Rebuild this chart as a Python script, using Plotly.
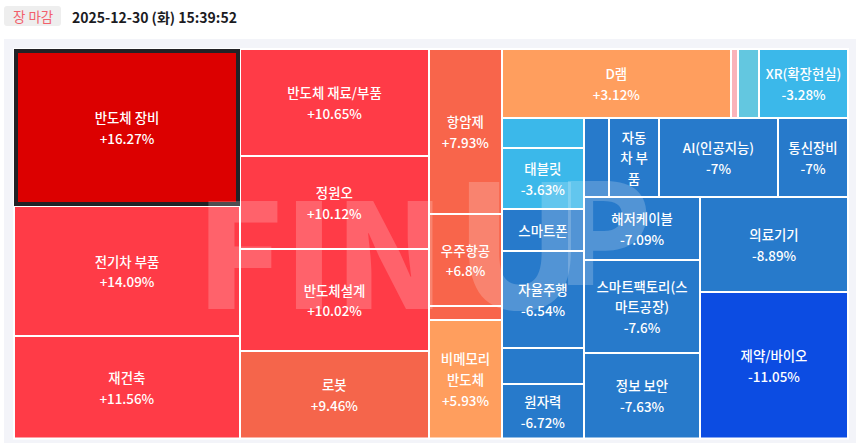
import plotly.graph_objects as go

W, H = 856, 443
FONT = "Noto Sans CJK KR"

# 트리맵 칸 (기타 칸은 글자 표시 안 함)
names = ["반도체 장비", "전기차 부품", "재건축",
         "반도체 재료/부품", "정원오", "반도체설계", "로봇",
         "항암제", "우주항공", "기타1", "비메모리<br>반도체",
         "D램", "기타2", "기타3", "XR(확장현실)",
         "기타4", "태블릿", "스마트폰", "자율주행", "기타5", "원자력",
         "기타6", "자동<br>차 부<br>품", "AI(인공지능)", "통신장비",
         "해저케이블", "스마트팩토리(스<br>마트공장)", "정보 보안",
         "의료기기", "제약/바이오"]
changes = ["+16.27%", "+14.09%", "+11.56%",
           "+10.65%", "+10.12%", "+10.02%", "+9.46%",
           "+7.93%", "+6.8%", "", "+5.93%",
           "+3.12%", "", "", "-3.28%",
           "", "-3.63%", "", "-6.54%", "", "-6.72%",
           "", "", "-7%", "-7%",
           "-7.09%", "-7.6%", "-7.63%",
           "-8.89%", "-11.05%"]
sizes = [35482, 29380, 23165,
         20223, 17577, 19278, 16538,
         12045, 6716, 1022, 8651,
         15801, 483, 1449, 6141,
         2460, 5002, 3444, 7954, 2952, 4469,
         1975, 3950, 9401, 5530,
         7308, 10788, 9918,
         14060, 21682]
colors = ["#dc0000", "#ff3b47", "#ff3b47",
          "#ff3b47", "#ff3b47", "#ff3b47", "#f5654b",
          "#f8654b", "#f8654b", "#f8654b", "#ff9e5e",
          "#ff9e5e", "#f9b3ba", "#63c7e0", "#3bb8ea",
          "#3bb8ea", "#3bb8ea", "#277acb", "#277acb", "#277acb", "#277acb",
          "#277acb", "#277acb", "#277acb", "#277acb",
          "#277acb", "#277acb", "#277acb",
          "#277acb", "#0c4ce2"]
parents = ["c1", "c1", "c1",
           "c2", "c2", "c2", "c2",
           "c3", "c3", "c3", "c3",
           "top", "top", "top", "top",
           "colA", "colA", "colA", "colA", "colA", "colA",
           "row", "row", "row", "row",
           "colB", "colB", "colB",
           "colC", "colC"]

# 바깥 묶음 (slice-dice로 칸 배치를 고정)
group_ids = ["root", "c1", "c2", "c3", "right", "top", "low", "colA", "rest", "row", "rest2", "colB", "colC"]
group_parents = ["", "root", "root", "root", "root", "right", "right", "low", "low", "rest", "rest", "rest2", "rest2"]

# 맨 위 표시 텍스트
status_text = "장 마감"
time_text = "2025-12-30 (화) 15:39:52"

texts = []
for n, c in zip(names, changes):
    if n.startswith("기타"):
        texts.append("")
    elif c:
        texts.append(f"<span style='font-size:13.4px'>{n}<br>{c}</span>")
    else:
        texts.append(f"<span style='font-size:13.4px'>{n}</span>")

ids = group_ids + [f"leaf{i}" for i in range(len(names))]
labels = group_ids + names
pars = group_parents + parents
vals = [0] * len(group_ids) + sizes
cols = ["rgba(0,0,0,0)"] * len(group_ids) + colors
line_w = [0] * len(group_ids) + [2] * len(names)
txt = [""] * len(group_ids) + texts


def px(x):
    return x / W


def py(y):
    return 1 - y / H


LEFT, RIGHT, TOP, BOTTOM = 14, 848, 49, 438.5

fig = go.Figure(go.Treemap(
    ids=ids,
    labels=labels,
    parents=pars,
    values=vals,
    text=txt,
    texttemplate="%{text}",
    branchvalues="remainder",
    sort=False,
    hoverinfo="skip",
    tiling=dict(packing="slice-dice", pad=0),
    pathbar=dict(visible=False),
    root=dict(color="rgba(0,0,0,0)"),
    marker=dict(colors=cols, depthfade=False, pad=dict(t=0, l=0, r=0, b=0),
                line=dict(color="white", width=line_w)),
    textfont=dict(family=FONT, size=16, color="white", weight=500),
    textposition="middle center",
    domain=dict(x=[px(LEFT), px(RIGHT)], y=[py(BOTTOM), py(TOP)]),
))

# 첫 칸 강조 테두리: 칸 크기에서 계산
total = sum(sizes)
col1 = sum(s for s, p in zip(sizes, parents) if p == "c1")
first_r = LEFT + (RIGHT - LEFT) * col1 / total
first_b = TOP + (BOTTOM - TOP) * sizes[0] / col1

shapes = [
    dict(type="rect", layer="below", xref="paper", yref="paper",
         x0=px(4), x1=1, y0=0, y1=py(39), line_width=0, fillcolor="#f3f4f9"),
    dict(type="rect", xref="paper", yref="paper",
         x0=px(LEFT + 2), x1=px(first_r - 2), y0=py(first_b - 2), y1=py(TOP + 2),
         line=dict(color="#222226", width=4)),
    dict(type="path", xref="paper", yref="paper", line_width=0, fillcolor="#eeeeee",
         path=f"M {px(7)} {py(6)} L {px(58)} {py(6)} Q {px(61)} {py(6)} {px(61)} {py(9)} "
              f"L {px(61)} {py(23)} Q {px(61)} {py(26)} {px(58)} {py(26)} "
              f"L {px(7)} {py(26)} Q {px(4)} {py(26)} {px(4)} {py(23)} "
              f"L {px(4)} {py(9)} Q {px(4)} {py(6)} {px(7)} {py(6)} Z"),
]


def mark(text, left, bottom, size):
    # 워터마크 글자 묶음
    return dict(text=text, x=px(left), y=py(bottom), xref="paper", yref="paper", showarrow=False,
                xanchor="left", yanchor="bottom", yshift=-size * 0.288,
                font=dict(family=FONT, size=size, color="rgba(255,255,255,0.2)", weight=900))


annotations = [
    dict(text=status_text, x=px(32.5), y=py(16), xref="paper", yref="paper", showarrow=False,
         xanchor="center", yanchor="middle", font=dict(family=FONT, size=13.5, color="#f2606c")),
    dict(text=time_text, x=px(70), y=py(17), xref="paper", yref="paper", showarrow=False,
         xanchor="left", yanchor="middle", font=dict(family=FONT, size=14, color="#1b1b1f", weight=700)),
    mark("FIN", 194, 311, 145),
    mark("U", 453, 311, 170),
    mark("P", 554, 287, 140),
]

fig.update_layout(
    width=W, height=H,
    margin=dict(l=0, r=0, t=0, b=0),
    paper_bgcolor="white",
    shapes=shapes,
    annotations=annotations,
    showlegend=False,
)

fig.write_html("out.html", config=dict(displayModeBar=False),
               post_script="document.body.style.margin='0';")
